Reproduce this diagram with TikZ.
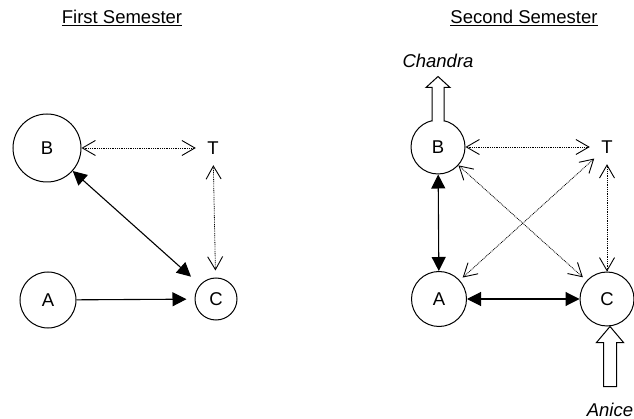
\documentclass[tikz,border=0pt]{standalone}
\usepackage{fontspec}
\setmainfont{Liberation Sans}
\usetikzlibrary{arrows.meta,calc}
\begin{document}
\begin{tikzpicture}[x=1pt,y=-1pt,
  every node/.style={font=\fontsize{18.5}{22}\selectfont},
  actor/.style={circle,draw,line width=1pt,inner sep=0pt},
  teacher/.style={circle,inner sep=0pt,minimum size=34pt},
  strong/.style={line width=1.1pt,{Triangle[length=14pt,width=14pt]}-{Triangle[length=14pt,width=14pt]}},
  strongone/.style={line width=1.1pt,-{Triangle[length=14pt,width=14pt]}},
  weak/.style={line width=0.8pt,dash pattern=on 0.9pt off 0.9pt,
    {Straight Barb[length=13pt,width=15pt,line width=0.9pt]}-{Straight Barb[length=13pt,width=15pt,line width=0.9pt]}},
  block/.style={draw,line width=1pt,fill=white,line join=miter}]
\useasboundingbox (0,0) rectangle (634,419);

% First semester
\node (title1) at (122,18) {\underline{First Semester}};
\node[actor,minimum size=68pt] (B1) at (47,148) {B};
\node[teacher] (T1) at (213,148) {T};
\node[actor,minimum size=56pt] (A1) at (48,300) {A};
\node[actor,minimum size=42pt] (C1) at (216,299) {C};

\draw[weak] (B1) -- (T1);
\draw[weak,shorten >=7pt] (T1) -- (C1);
\draw[strong,shorten >=12pt] (B1) -- (C1);
\draw[strongone,shorten >=8pt] (A1) -- (C1);

% Second semester
\node (title2) at (524,18) {\underline{Second Semester}};
\node[actor,minimum size=54pt] (B2) at (438,147) {B};
\node[teacher] (T2) at (607,147) {T};
\node[actor,minimum size=55pt] (A2) at (439,299) {A};
\node[actor,minimum size=54pt] (C2) at (607,299) {C};
\node (chandra) at (438,61) {\itshape Chandra};
\node (anice) at (610,410) {\itshape Anice};

\draw[weak] (B2) -- (T2);
\draw[weak] (T2) -- (C2);
\draw[weak,shorten >=5pt] (B2) -- (C2);
\draw[weak,shorten <=4pt] (A2) -- (T2);
\draw[strong] (B2) -- (A2);
\draw[strong] (A2) -- (C2);

% hollow block arrows: Chandra leaves B, Anice joins C
\draw[block,shift={(B2.north)}]
  (-6,2) -- (-6,-32) -- (-12,-32) -- (0,-43) -- (12,-32) -- (6,-32) -- (6,2);
\draw[block,shift={(C2.south)}]
  (-3.5,60) -- (-3.5,16) -- (-10.5,16) -- (3,0) -- (16.5,16) -- (9.5,16) -- (9.5,60) -- cycle;
\end{tikzpicture}
\end{document}
